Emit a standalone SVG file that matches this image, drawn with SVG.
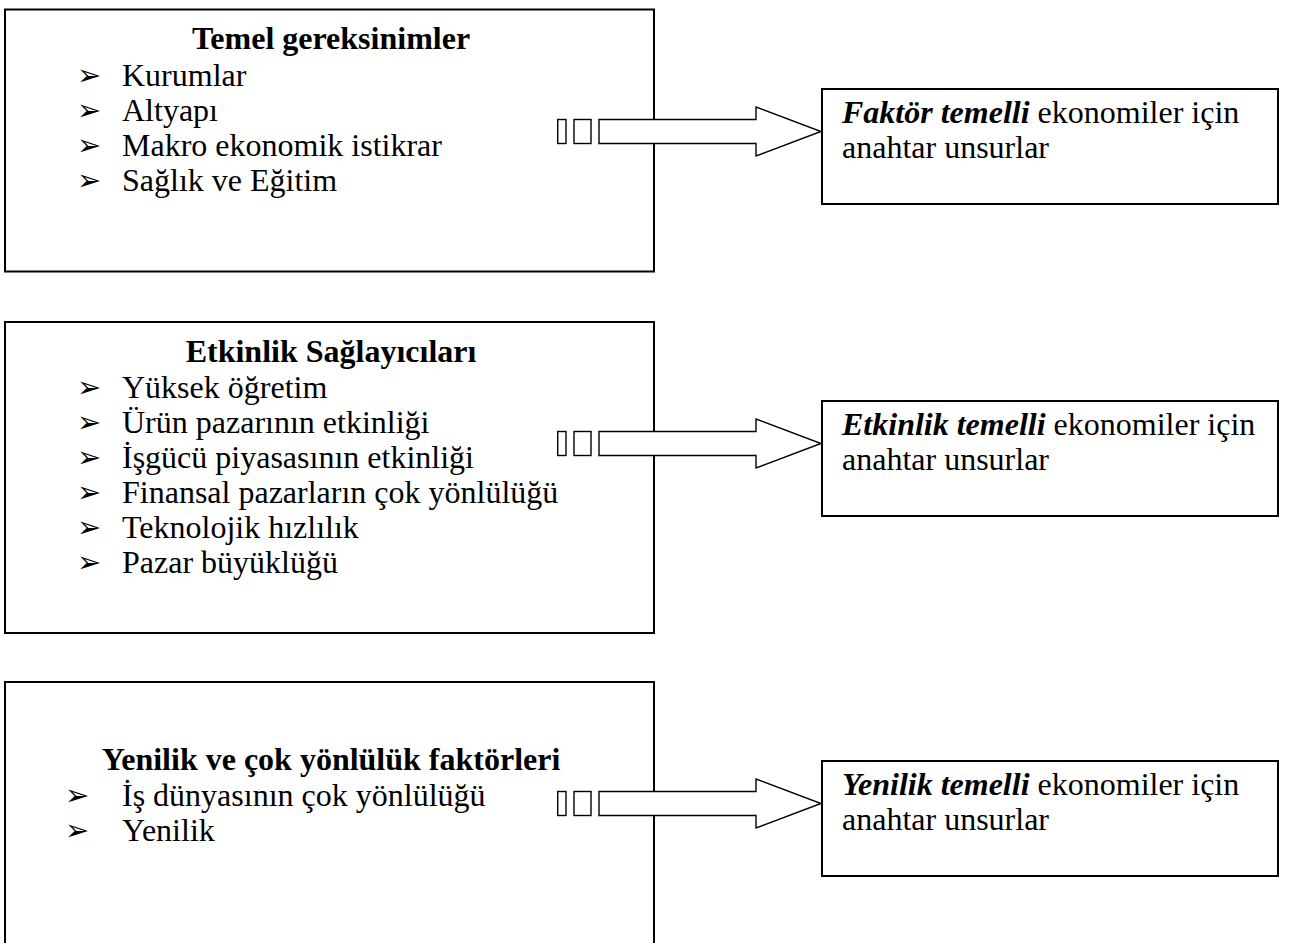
<svg xmlns="http://www.w3.org/2000/svg" width="1303" height="943" viewBox="0 0 1303 943">
  <style>
    .box { fill: #ffffff; stroke: #000000; stroke-width: 2; }
    .arrow { fill: #ffffff; stroke: #000000; stroke-width: 1.4; stroke-linejoin: miter; }
    .title { font-family: "Liberation Serif", "Times New Roman", serif; font-size: 32px; font-weight: bold; fill: #000; text-anchor: middle; }
    .item { font-family: "Liberation Serif", "Times New Roman", serif; font-size: 32px; fill: #000; }
    .bullet { font-family: "DejaVu Sans", sans-serif; font-size: 29px; fill: #000; }
    .label { font-family: "Liberation Serif", "Times New Roman", serif; font-size: 32px; fill: #000; }
    .em { font-weight: bold; font-style: italic; }
  </style>
  <defs>
    <!-- striped block arrow, origin at the arrow's centre line -->
    <g id="striped-arrow">
      <rect class="arrow" x="557.7" y="-12" width="8.3" height="24"/>
      <rect class="arrow" x="574" y="-12" width="17" height="24"/>
      <polygon class="arrow" points="599,-12 756,-12 756,-24.5 821,0 756,24.5 756,12 599,12"/>
    </g>
  </defs>

  <rect width="1303" height="943" fill="#ffffff"/>

  <!-- left column: requirement groups -->
  <g id="temel-gereksinimler">
    <rect class="box" x="5" y="9.5" width="649" height="262"/>
    <text class="title" x="331" y="49">Temel gereksinimler</text>
    <text class="bullet" x="77" y="85">➢</text>
    <text class="item" x="122" y="86">Kurumlar</text>
    <text class="bullet" x="77" y="120">➢</text>
    <text class="item" x="122" y="121">Altyapı</text>
    <text class="bullet" x="77" y="155">➢</text>
    <text class="item" x="122" y="156">Makro ekonomik istikrar</text>
    <text class="bullet" x="77" y="190">➢</text>
    <text class="item" x="122" y="191">Sağlık ve Eğitim</text>
  </g>

  <g id="etkinlik-saglayicilari">
    <rect class="box" x="5" y="322" width="649" height="311"/>
    <text class="title" x="331" y="362">Etkinlik Sağlayıcıları</text>
    <text class="bullet" x="77" y="397">➢</text>
    <text class="item" x="122" y="398">Yüksek öğretim</text>
    <text class="bullet" x="77" y="432">➢</text>
    <text class="item" x="122" y="433">Ürün pazarının etkinliği</text>
    <text class="bullet" x="77" y="467">➢</text>
    <text class="item" x="122" y="468">İşgücü piyasasının etkinliği</text>
    <text class="bullet" x="77" y="502">➢</text>
    <text class="item" x="122" y="503">Finansal pazarların çok yönlülüğü</text>
    <text class="bullet" x="77" y="537">➢</text>
    <text class="item" x="122" y="538">Teknolojik hızlılık</text>
    <text class="bullet" x="77" y="572">➢</text>
    <text class="item" x="122" y="573">Pazar büyüklüğü</text>
  </g>

  <g id="yenilik-faktorleri">
    <rect class="box" x="5" y="682" width="649" height="300"/>
    <text class="title" x="331" y="770">Yenilik ve çok yönlülük faktörleri</text>
    <text class="bullet" x="65" y="805">➢</text>
    <text class="item" x="122" y="806">İş dünyasının çok yönlülüğü</text>
    <text class="bullet" x="65" y="840">➢</text>
    <text class="item" x="122" y="841">Yenilik</text>
  </g>

  <!-- right column: economy stages -->
  <g id="faktor-temelli">
    <rect class="box" x="822" y="89" width="456" height="115"/>
    <text class="label" x="842" y="123"><tspan class="em">Faktör temelli</tspan> ekonomiler için</text>
    <text class="label" x="842" y="158">anahtar unsurlar</text>
  </g>

  <g id="etkinlik-temelli">
    <rect class="box" x="822" y="401" width="456" height="115"/>
    <text class="label" x="842" y="435"><tspan class="em">Etkinlik temelli</tspan> ekonomiler için</text>
    <text class="label" x="842" y="470">anahtar unsurlar</text>
  </g>

  <g id="yenilik-temelli">
    <rect class="box" x="822" y="761" width="456" height="115"/>
    <text class="label" x="842" y="795"><tspan class="em">Yenilik temelli</tspan> ekonomiler için</text>
    <text class="label" x="842" y="830">anahtar unsurlar</text>
  </g>

  <!-- connectors -->
  <g id="connectors">
    <use href="#striped-arrow" transform="translate(0,131.5)"/>
    <use href="#striped-arrow" transform="translate(0,443.5)"/>
    <use href="#striped-arrow" transform="translate(0,803.5)"/>
  </g>
</svg>
